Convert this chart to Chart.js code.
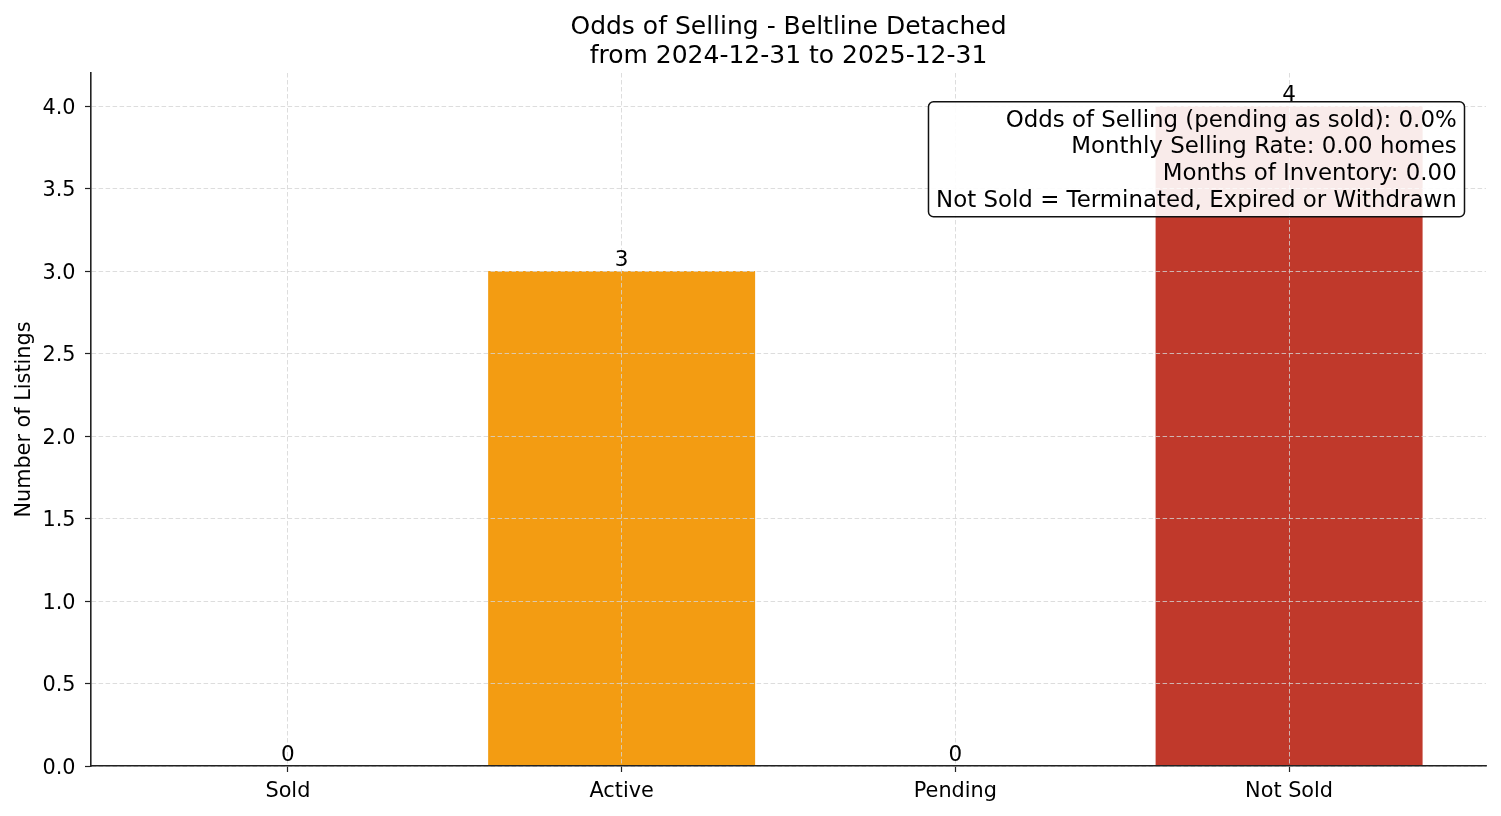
<!DOCTYPE html>
<html>
<head>
<meta charset="utf-8">
<script src="https://cdn.jsdelivr.net/npm/chart.js@4.4.1/dist/chart.umd.min.js"></script>
<style>
  html, body { margin: 0; padding: 0; background: #ffffff; }
  #wrap { width: 1501px; height: 816px; }
</style>
</head>
<body>
<div id="wrap"><canvas id="c" width="1501" height="816"></canvas></div>
<script>
// ---- data ----
const categories = ['Sold', 'Active', 'Pending', 'Not Sold'];
const listingCounts = [0, 3, 0, 4];
const barColors = ['#27ae60', '#f39c12', '#3498db', '#c0392b'];
const yTickValues = [0, 0.5, 1.0, 1.5, 2.0, 2.5, 3.0, 3.5, 4.0];
const titleLines = ['Odds of Selling - Beltline Detached', 'from 2024-12-31 to 2025-12-31'];
const infoLines = [
  'Odds of Selling (pending as sold): 0.0%',
  'Monthly Selling Rate: 0.00 homes',
  'Months of Inventory: 0.00',
  'Not Sold = Terminated, Expired or Withdrawn'
];
const yAxisTitle = 'Number of Listings';

// ---- style ----
const FONT = "'DejaVu Sans', 'Liberation Sans', sans-serif";
Chart.defaults.font.family = FONT;
Chart.defaults.color = '#000000';

const titlePlugin = {
  id: 'mplTitle',
  afterDraw(chart) {
    const { ctx, chartArea } = chart;
    const cx = (chartArea.left + chartArea.right) / 2;
    ctx.save();
    ctx.font = "25px " + FONT;
    ctx.fillStyle = '#000';
    ctx.textAlign = 'center';
    ctx.textBaseline = 'alphabetic';
    titleLines.forEach((t, i) => ctx.fillText(t, cx, 34 + i * 28.6));
    ctx.restore();
  }
};

const valueLabelPlugin = {
  id: 'valueLabels',
  afterDraw(chart) {
    const { ctx } = chart;
    const meta = chart.getDatasetMeta(0);
    ctx.save();
    ctx.font = "21.5px " + FONT;
    ctx.fillStyle = '#000';
    ctx.textAlign = 'center';
    ctx.textBaseline = 'alphabetic';
    meta.data.forEach((el, i) => {
      ctx.fillText(String(listingCounts[i]), el.x, el.y - 5);
    });
    ctx.restore();
  }
};

const infoBoxPlugin = {
  id: 'infoBox',
  afterDraw(chart) {
    const { ctx, chartArea } = chart;
    ctx.save();
    ctx.font = "22.9px " + FONT;
    const maxW = Math.max(...infoLines.map(t => ctx.measureText(t).width));
    const boxRight = chartArea.right - 21.5;
    const boxTop = chartArea.top + 28.7;
    const boxBottom = boxTop + 115;
    const textRight = boxRight - 7.8;
    const boxLeft = textRight - maxW - 7.6;
    const r = 5;
    ctx.beginPath();
    ctx.moveTo(boxLeft + r, boxTop);
    ctx.lineTo(boxRight - r, boxTop);
    ctx.arcTo(boxRight, boxTop, boxRight, boxTop + r, r);
    ctx.lineTo(boxRight, boxBottom - r);
    ctx.arcTo(boxRight, boxBottom, boxRight - r, boxBottom, r);
    ctx.lineTo(boxLeft + r, boxBottom);
    ctx.arcTo(boxLeft, boxBottom, boxLeft, boxBottom - r, r);
    ctx.lineTo(boxLeft, boxTop + r);
    ctx.arcTo(boxLeft, boxTop, boxLeft + r, boxTop, r);
    ctx.closePath();
    ctx.fillStyle = 'rgba(255,255,255,0.9)';
    ctx.fill();
    ctx.lineWidth = 1.5;
    ctx.strokeStyle = '#111';
    ctx.stroke();
    ctx.fillStyle = '#000';
    ctx.textAlign = 'right';
    ctx.textBaseline = 'alphabetic';
    infoLines.forEach((t, i) => ctx.fillText(t, textRight, boxTop + 25 + i * 26.67));
    ctx.restore();
  }
};

const gridCommon = {
  color: '#d4d4d4',
  lineWidth: 0.8,
  tickColor: '#222',
  tickWidth: 1.2,
  tickLength: 6,
  drawTicks: true,
  offset: false,
  z: 1
};
const borderCommon = { display: true, color: '#222', width: 1.6, dash: [4.5, 2.5], z: 2 };

new Chart(document.getElementById('c'), {
  type: 'bar',
  data: {
    datasets: [{
      data: categories.map((c, i) => ({ x: i, y: listingCounts[i] })),
      backgroundColor: barColors,
      borderWidth: 0,
      barPercentage: 0.8,
      categoryPercentage: 1.0
    }]
  },
  options: {
    responsive: false,
    animation: false,
    devicePixelRatio: 1,
    layout: { padding: { top: 73, right: 15, left: 0, bottom: 0 } },
    plugins: {
      legend: { display: false },
      title: { display: false },
      tooltip: { enabled: false }
    },
    scales: {
      x: {
        type: 'linear',
        offset: false,
        min: -0.59,
        max: 3.59,
        afterBuildTicks: (s) => { s.ticks = categories.map((c, i) => ({ value: i })); },
        afterFit: (s) => { s.height = 50; },
        ticks: {
          autoSkip: false,
          maxRotation: 0,
          padding: 7,
          font: { size: 20.8 },
          color: '#000',
          callback: (v) => categories[v]
        },
        grid: gridCommon,
        border: borderCommon
      },
      y: {
        type: 'linear',
        min: 0,
        max: 4.2,
        afterBuildTicks: (s) => { s.ticks = yTickValues.map(v => ({ value: v })); },
        afterFit: (s) => { s.width = 91; },
        ticks: {
          padding: 9.5,
          labelOffset: 2.5,
          font: { size: 20.8 },
          color: '#000',
          callback: (v) => Number(v).toFixed(1)
        },
        title: {
          display: true,
          text: yAxisTitle,
          font: { size: 20.8 },
          color: '#000',
          padding: { top: 12.5, bottom: 0 }
        },
        grid: gridCommon,
        border: borderCommon
      }
    }
  },
  plugins: [titlePlugin, valueLabelPlugin, infoBoxPlugin]
});
</script>
</body>
</html>
